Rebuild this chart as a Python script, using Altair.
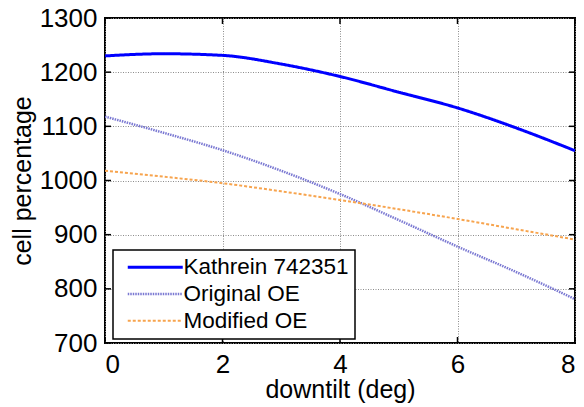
import altair as alt
import pandas as pd

downtilt = [0, 1, 2, 3, 4, 5, 6, 7, 8]
kathrein = [1230, 1234, 1231, 1215, 1192, 1163, 1134, 1097, 1055]
original_oe = [1118, 1088, 1056, 1018, 975, 927, 878, 831, 781]
modified_oe = [1018, 1007, 995, 980, 964, 947, 929, 910, 891]
series = ["Kathrein 742351", "Original OE", "Modified OE"]
x_ticks = [0, 2, 4, 6, 8]
y_ticks = [700, 800, 900, 1000, 1100, 1200, 1300]

rows = []
for name, vals in zip(series, [kathrein, original_oe, modified_oe]):
    for x, v in zip(downtilt, vals):
        rows.append({"downtilt": x, "value": v, "series": name})
df = pd.DataFrame(rows)

W, H = 470, 325
FONT = "Liberation Sans"

xs = alt.Scale(domain=[0, 8], nice=False, zero=False)
ys = alt.Scale(domain=[700, 1300], nice=False, zero=False)

lines = alt.Chart(df).mark_line(interpolate="monotone", clip=True).encode(
    x=alt.X("downtilt:Q", scale=xs,
            axis=alt.Axis(values=x_ticks, title="downtilt (deg)", format="d")),
    y=alt.Y("value:Q", scale=ys,
            axis=alt.Axis(values=y_ticks, title="cell percentage", format="d")),
    color=alt.Color("series:N", sort=series,
                    scale=alt.Scale(domain=series, range=["#0000ff", "#7a78d2", "#f7a44e"]),
                    legend=alt.Legend(title=None)),
    strokeDash=alt.StrokeDash("series:N", sort=series,
                              scale=alt.Scale(domain=series, range=[[1, 0], [1.5, 1], [3, 2]]),
                              legend=alt.Legend(title=None)),
    strokeWidth=alt.StrokeWidth("series:N", sort=series,
                                scale=alt.Scale(domain=series, range=[3, 2, 3.2]),
                                legend=alt.Legend(title=None)),
)

tdf_x = pd.DataFrame({"t": x_ticks})
tdf_y = pd.DataFrame({"t": y_ticks})
tick_style = dict(color="black", strokeWidth=1.5)
xt_bottom = alt.Chart(tdf_x).mark_rule(**tick_style).encode(
    x=alt.X("t:Q", scale=xs), y=alt.value(H), y2=alt.value(H - 6))
xt_top = alt.Chart(tdf_x).mark_rule(**tick_style).encode(
    x=alt.X("t:Q", scale=xs), y=alt.value(0), y2=alt.value(6))
yt_left = alt.Chart(tdf_y).mark_rule(**tick_style).encode(
    y=alt.Y("t:Q", scale=ys), x=alt.value(0), x2=alt.value(6))
yt_right = alt.Chart(tdf_y).mark_rule(**tick_style).encode(
    y=alt.Y("t:Q", scale=ys), x=alt.value(W), x2=alt.value(W - 6))

chart = alt.layer(lines, xt_bottom, xt_top, yt_left, yt_right).properties(
    width=W, height=H,
    autosize=alt.AutoSizeParams(type="none"),
    padding={"left": 97, "top": 10, "right": 1, "bottom": 64},
    background="white",
).configure_view(
    stroke="black", strokeWidth=2
).configure_axis(
    domain=False, ticks=False,
    grid=True, gridColor="#8c8c8c", gridDash=[1, 1.5], gridWidth=1, gridOpacity=1,
    labelFont=FONT, labelFontSize=26, labelColor="black",
    titleFont=FONT, titleFontSize=25, titleColor="black", titleFontWeight="normal",
).configure_axisX(
    labelPadding=8, titleY=54, titleBaseline="alphabetic",
).configure_axisY(
    labelPadding=8, titlePadding=4,
).configure_legend(
    orient="none", legendX=8, legendY=232,
    fillColor="white", strokeColor="black", strokeWidth=1.5,
    padding=6, symbolType="M-10,0H10", symbolSize=30.25,
    symbolOffset=25, labelOffset=17, labelLimit=400,
    labelFont=FONT, labelFontSize=22.5, labelColor="black",
    rowPadding=3.8, cornerRadius=0,
)

chart.save("out.html", embed_options={"renderer": "svg", "actions": False})
